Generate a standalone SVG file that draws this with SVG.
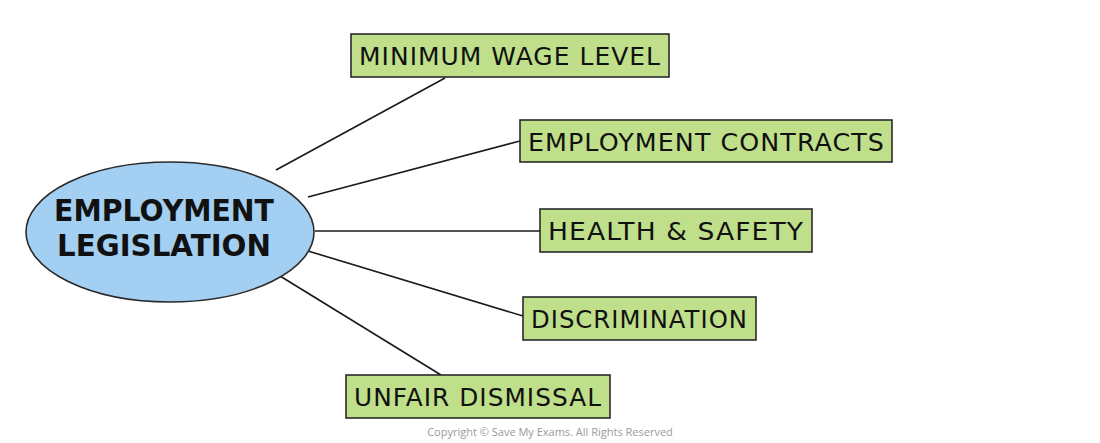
<svg xmlns="http://www.w3.org/2000/svg" width="1100" height="443" viewBox="0 0 1100 443">
<style>
.box{fill:#bfdf8b;stroke:#2a2a2a;stroke-width:1.6}
.lbl{font-family:"DejaVu Sans","Liberation Sans",sans-serif;font-size:24px;fill:#111;letter-spacing:1px}
.main{font-family:"DejaVu Sans","Liberation Sans",sans-serif;font-size:30px;font-weight:bold;fill:#111;text-anchor:middle}
.con line{stroke:#1a1a1a;stroke-width:1.6}
</style>
<rect width="1100" height="443" fill="#ffffff"/>
<g class="con">
<line x1="276" y1="170" x2="445" y2="78"/>
<line x1="308" y1="197" x2="520" y2="141"/>
<line x1="315" y1="231" x2="540" y2="231"/>
<line x1="308" y1="251" x2="523" y2="316"/>
<line x1="280" y1="276" x2="441" y2="375"/>
</g>
<g id="center">
<ellipse cx="170" cy="232" rx="144" ry="70" fill="#a3cff2" stroke="#2a2a2a" stroke-width="1.6"/>
<text class="main" x="164" y="221" textLength="220" lengthAdjust="spacingAndGlyphs">EMPLOYMENT</text>
<text class="main" x="164" y="256" textLength="214" lengthAdjust="spacingAndGlyphs">LEGISLATION</text>
</g>
<g id="n1">
<rect class="box" x="351" y="34" width="318" height="43"/>
<text class="lbl" x="359" y="65" textLength="302" lengthAdjust="spacingAndGlyphs">MINIMUM WAGE LEVEL</text>
</g>
<g id="n2">
<rect class="box" x="520" y="120" width="372" height="42"/>
<text class="lbl" x="528" y="151" textLength="357" lengthAdjust="spacingAndGlyphs">EMPLOYMENT CONTRACTS</text>
</g>
<g id="n3">
<rect class="box" x="540" y="209" width="272" height="43"/>
<text class="lbl" x="548" y="240" textLength="256" lengthAdjust="spacingAndGlyphs">HEALTH &amp; SAFETY</text>
</g>
<g id="n4">
<rect class="box" x="523" y="297" width="233" height="43"/>
<text class="lbl" x="531" y="328" textLength="217" lengthAdjust="spacingAndGlyphs">DISCRIMINATION</text>
</g>
<g id="n5">
<rect class="box" x="346" y="375" width="264" height="43"/>
<text class="lbl" x="354" y="406" textLength="248" lengthAdjust="spacingAndGlyphs">UNFAIR DISMISSAL</text>
</g>
<text x="550" y="436" font-family="'Open Sans','Liberation Sans',sans-serif" font-size="11" fill="#9a9a9a" text-anchor="middle">Copyright © Save My Exams. All Rights Reserved</text>
</svg>
